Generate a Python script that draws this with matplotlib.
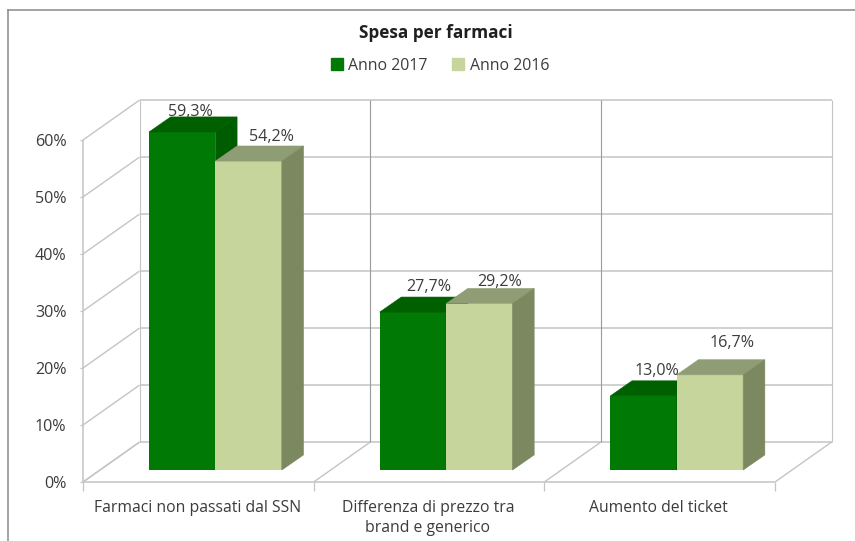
import matplotlib
matplotlib.use('Agg')
import matplotlib.pyplot as plt
from matplotlib.lines import Line2D
from matplotlib.patches import Patch

plt.rcParams['font.family'] = ['Open Sans', 'DejaVu Sans']

categories = ['Farmaci non passati dal SSN', 'Differenza di prezzo tra\nbrand e generico', 'Aumento del ticket']
anno_2017 = [59.3, 27.7, 13.0]
anno_2016 = [54.2, 29.2, 16.7]
labels_2017 = ['59,3%', '27,7%', '13,0%']
labels_2016 = ['54,2%', '29,2%', '16,7%']
y_ticks = [0, 10, 20, 30, 40, 50, 60]
y_labels = ['0%', '10%', '20%', '30%', '40%', '50%', '60%']
title = 'Spesa per farmaci'
legend_labels = ['Anno 2017', 'Anno 2016']

# figure is 855x541, axes placed so that data units map onto the front plane of the 3d box
W, H = 855, 541
fig = plt.figure(figsize=(W / 100, H / 100), dpi=100)
ax = fig.add_axes([83 / W, 1 - 482 / H, (775 - 83) / W, (482 - 140) / H])
ax.set_xlim(0, 3)
ax.set_ylim(0, 60)
ax.axis('off')

# depth of the box and of the bars, in data units
box_dx, box_dy = 0.245, 7.0
bar_dx, bar_dy = 0.094, 2.65
base_y = 2.1
offset = 0.286
width = 0.288

grid_col = '#c4c4c4'
dark_grid = '#9a9a9a'
text_col = '#3c3c3c'


def line(xs, ys, color=grid_col, lw=1.0, z=1):
    ax.add_line(Line2D(xs, ys, color=color, lw=lw, zorder=z, clip_on=False, solid_capstyle='butt'))


# back wall and side lines
for t in y_ticks:
    line([0, box_dx], [t, t + box_dy])
    line([box_dx, 3 + box_dx], [t + box_dy, t + box_dy], lw=1.1)
    line([-0.013, 0], [t, t], lw=0.9)
for c in range(4):
    line([c + box_dx, c + box_dx], [box_dy, 60 + box_dy], color=dark_grid if 0 < c < 3 else grid_col, lw=0.8)
    line([c, c + box_dx], [0, box_dy])
    line([c, c], [-1.5, 0], lw=0.9)
line([0, 3], [0, 0], lw=1.1)
line([0, 0], [0, 60], lw=1.1)


def bar3d(x, value, front, top, side, z):
    ax.bar(x, value, width=width, bottom=base_y, align='edge', color=front, zorder=z, clip_on=False)
    h = base_y + value
    ax.fill([x, x + bar_dx, x + width + bar_dx, x + width], [h, h + bar_dy, h + bar_dy, h],
            facecolor=top, edgecolor=top, lw=0.4, zorder=z, clip_on=False)
    ax.fill([x + width, x + width + bar_dx, x + width + bar_dx, x + width],
            [base_y, base_y + bar_dy, h + bar_dy, h], facecolor=side, edgecolor=side, lw=0.4, zorder=z, clip_on=False)


for i in range(3):
    x = i + offset
    bar3d(x, anno_2017[i], '#007a05', '#006000', '#005c00', 3)
    bar3d(x + width, anno_2016[i], '#c5d59c', '#8f9d74', '#7b8860', 4)

# label nudges, the labels sit loosely above the bars in the original
nudge_2017 = [(0.035, 3.6), (0.07, 4.4), (0.06, 4.35)]
nudge_2016 = [(0.10, 4.25), (0.087, 3.75), (0.095, 5.55)]
for i in range(3):
    x = i + offset
    ax.text(x + width / 2 + nudge_2017[i][0], base_y + anno_2017[i] + nudge_2017[i][1], labels_2017[i],
            ha='center', va='center', fontsize=11.6, color=text_col, zorder=6, clip_on=False)
    ax.text(x + 1.5 * width + nudge_2016[i][0], base_y + anno_2016[i] + nudge_2016[i][1], labels_2016[i],
            ha='center', va='center', fontsize=11.6, color=text_col, zorder=6, clip_on=False)

for t, lab in zip(y_ticks, y_labels):
    ax.text(-0.072, t - 0.35, lab, ha='right', va='center', fontsize=11.6, color=text_col, clip_on=False)

for i, cat in enumerate(categories):
    ax.text(i + 0.5 - 0.005, -3.1, cat, ha='center', va='top', fontsize=11.3, color=text_col, clip_on=False,
            linespacing=1.4)

fig.text(436 / W, 1 - 33 / H, title, ha='center', va='center', fontsize=12.4, fontweight='bold', color='#202020')

handles = [Patch(color='#007a05'), Patch(color='#c5d59c')]
fig.legend(handles, legend_labels, loc='center', bbox_to_anchor=(440 / W, 1 - 65.5 / H), ncol=2, frameon=False,
           fontsize=11.4, handlelength=0.75, handleheight=0.75, handletextpad=0.35, columnspacing=1.55,
           labelcolor=text_col)

# outer frame: only left and top edges are inside the crop
fig.add_artist(Line2D([8 / W, 8 / W], [0, 1 - 9.5 / H], color='#8a8a8a', lw=1.1))
fig.add_artist(Line2D([8 / W, 1], [1 - 9.5 / H, 1 - 9.5 / H], color='#8a8a8a', lw=1.1))

plt.savefig('out.png', dpi=100)
plt.close()
